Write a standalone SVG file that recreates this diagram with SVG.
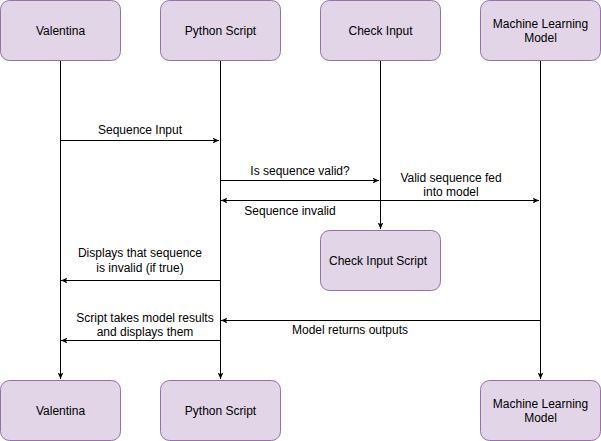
<svg xmlns="http://www.w3.org/2000/svg" width="601" height="441" viewBox="0 0 601 441">
<defs>
<style>
.box{fill:#e1d5e7;stroke:#9673a6;stroke-width:1}
.t{font-family:"Liberation Sans",Arial,sans-serif;font-size:12px;fill:#000;text-anchor:middle}
.ln{stroke:#000;stroke-width:1;fill:none}
</style>
<marker id="ah" viewBox="0 0 10 10" refX="9" refY="5" markerWidth="7" markerHeight="7" orient="auto-start-reverse" markerUnits="userSpaceOnUse">
<path d="M0,1 L9,5 L0,9 L2,5 Z" fill="#000"/>
</marker>
</defs>
<rect width="601" height="441" fill="#fff"/>
<g id="connectors">
<path class="ln" d="M60.5,60 V379" marker-end="url(#ah)"/>
<path class="ln" d="M220.5,60 V379" marker-end="url(#ah)"/>
<path class="ln" d="M380.5,60 V229" marker-end="url(#ah)"/>
<path class="ln" d="M540.5,60 V379" marker-end="url(#ah)"/>
<path class="ln" d="M60,140.5 H219" marker-end="url(#ah)"/>
<path class="ln" d="M220,180.5 H379" marker-end="url(#ah)"/>
<path class="ln" d="M221,200.5 H539" marker-start="url(#ah)" marker-end="url(#ah)"/>
<path class="ln" d="M220,280.5 H61" marker-end="url(#ah)"/>
<path class="ln" d="M540,320.5 H221" marker-end="url(#ah)"/>
<path class="ln" d="M220,340.5 H61" marker-end="url(#ah)"/>
<text class="t" x="140" y="134">Sequence Input</text>
<text class="t" x="300" y="175">Is sequence valid?</text>
<text class="t" x="451" y="182">Valid sequence fed</text>
<text class="t" x="451" y="196">into model</text>
<text class="t" x="290" y="215">Sequence invalid</text>
<text class="t" x="140" y="257">Displays that sequence</text>
<text class="t" x="140" y="272">is invalid (if true)</text>
<text class="t" x="145" y="322">Script takes model results</text>
<text class="t" x="145" y="336">and displays them</text>
<text class="t" x="350" y="334">Model returns outputs</text>
</g>
<g id="valentina-top"><rect class="box" x="0.5" y="0.5" width="120" height="60" rx="9"/><text class="t" x="60.5" y="35">Valentina</text></g>
<g id="python-top"><rect class="box" x="160.5" y="0.5" width="120" height="60" rx="9"/><text class="t" x="220.5" y="35">Python Script</text></g>
<g id="check-top"><rect class="box" x="320.5" y="0.5" width="120" height="60" rx="9"/><text class="t" x="380.5" y="35">Check Input</text></g>
<g id="ml-top"><rect class="box" x="480.5" y="0.5" width="120" height="60" rx="9"/><text class="t" x="540.5" y="28">Machine Learning</text><text class="t" x="540.5" y="42">Model</text></g>
<g id="check-script"><rect class="box" x="320.5" y="230.5" width="120" height="60" rx="9"/><text class="t" x="378" y="265">Check Input Script</text></g>
<g id="valentina-bottom"><rect class="box" x="0.5" y="380.5" width="120" height="60" rx="9"/><text class="t" x="60.5" y="415">Valentina</text></g>
<g id="python-bottom"><rect class="box" x="160.5" y="380.5" width="120" height="60" rx="9"/><text class="t" x="220.5" y="415">Python Script</text></g>
<g id="ml-bottom"><rect class="box" x="480.5" y="380.5" width="120" height="60" rx="9"/><text class="t" x="540.5" y="408">Machine Learning</text><text class="t" x="540.5" y="422">Model</text></g>
</svg>
